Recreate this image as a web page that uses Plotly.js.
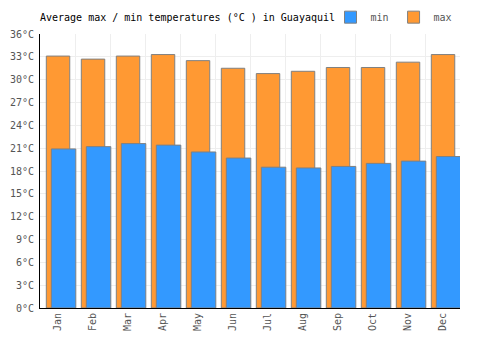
<!DOCTYPE html>
<html>
<head>
<meta charset="utf-8">
<script src="https://cdn.plot.ly/plotly-3.0.1.min.js"></script>
<style>html,body{margin:0;padding:0;background:#fff}#chart{width:500px;height:350px}</style>
</head>
<body>
<div id="chart"></div>
<script>
var months = ["Jan","Feb","Mar","Apr","May","Jun","Jul","Aug","Sep","Oct","Nov","Dec"];
var maxTemps = [33.1, 32.7, 33.1, 33.3, 32.5, 31.5, 30.8, 31.1, 31.6, 31.6, 32.3, 33.3];
var minTemps = [20.9, 21.2, 21.6, 21.4, 20.5, 19.7, 18.5, 18.4, 18.6, 19.0, 19.3, 19.9];

var font = "DejaVu Sans Mono, Liberation Mono, monospace";

var traceMax = {
  type: "bar", name: "max", x: months, y: maxTemps,
  width: 0.67, offset: -0.32,
  marker: {color: "#ff9933", line: {color: "#808080", width: 1}},
  hoverinfo: "none"
};
var traceMin = {
  type: "bar", name: "min", x: months, y: minTemps,
  width: 0.70, offset: -0.177,
  marker: {color: "#3399ff", line: {color: "#808080", width: 1}},
  hoverinfo: "none"
};

var layout = {
  width: 500, height: 350,
  margin: {l: 40, r: 40, t: 34, b: 42, autoexpand: false},
  paper_bgcolor: "#fff", plot_bgcolor: "#fff",
  barmode: "overlay",
  font: {family: font, size: 10, color: "#555"},
  title: {text: "Average max / min temperatures (°C ) in Guayaquil", x: 0.08, xanchor: "left", y: 0.951, yanchor: "middle",
          font: {family: font, size: 10, color: "#000"}},
  showlegend: true,
  legend: {orientation: "h", xref: "container", yref: "container", x: 0.915, xanchor: "right", y: 0.951, yanchor: "middle",
           traceorder: "reversed", font: {family: font, size: 10, color: "#555"}, itemwidth: 30,
           bgcolor: "rgba(0,0,0,0)", borderwidth: 0},
  xaxis: {
    type: "category", tickson: "boundaries", showgrid: true, gridcolor: "#eeeeee",
    showline: true, linecolor: "#000", linewidth: 1, tickangle: -90, ticks: "",
    range: [-0.5, 11.5], fixedrange: true, automargin: false,
    tickfont: {family: font, size: 10, color: "#555"}
  },
  yaxis: {
    range: [0, 36], dtick: 3, tick0: 0, ticksuffix: "°C", showgrid: true, gridcolor: "#eeeeee",
    showline: true, linecolor: "#000", linewidth: 1, ticks: "", zeroline: false, automargin: false,
    ticklabelstandoff: 3,
    tickfont: {family: font, size: 10, color: "#555"}
  }
};

Plotly.newPlot("chart", [traceMax, traceMin], layout, {displayModeBar: false, staticPlot: true});
</script>
</body>
</html>
